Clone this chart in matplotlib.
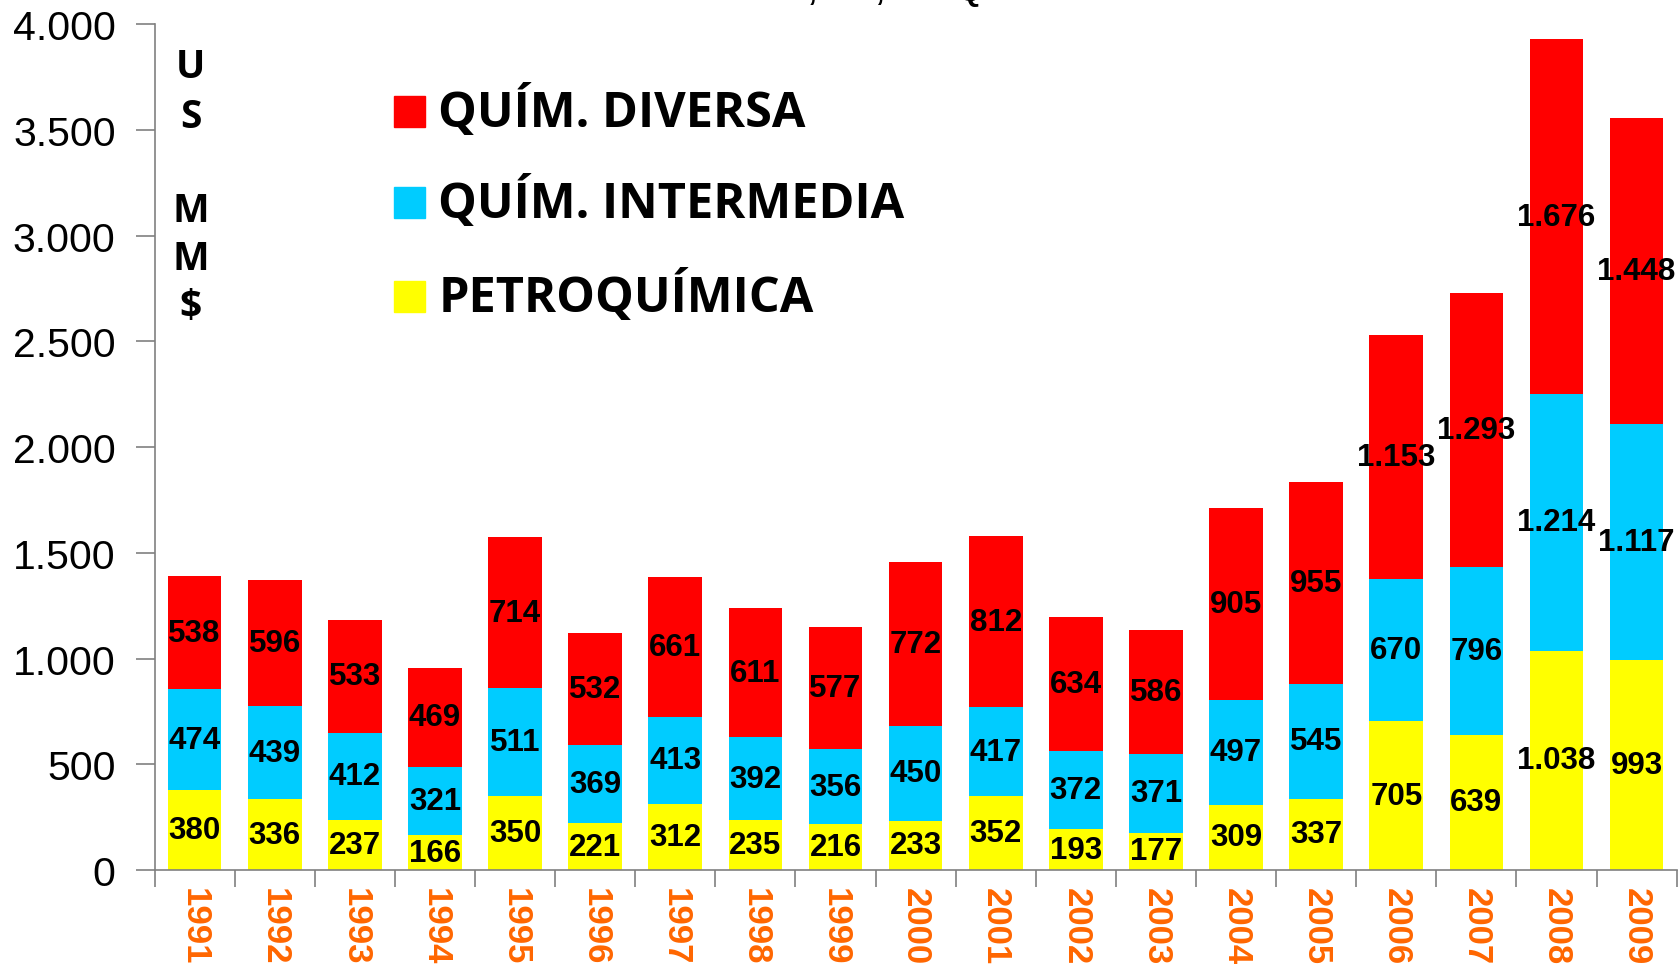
import numpy as np
import matplotlib.pyplot as plt
from matplotlib.patches import Rectangle

years = ['1991', '1992', '1993', '1994', '1995', '1996', '1997', '1998', '1999', '2000',
         '2001', '2002', '2003', '2004', '2005', '2006', '2007', '2008', '2009']
petroquimica = [380, 336, 237, 166, 350, 221, 312, 235, 216, 233, 352, 193, 177, 309, 337, 705, 639, 1038, 993]
intermedia = [474, 439, 412, 321, 511, 369, 413, 392, 356, 450, 417, 372, 371, 497, 545, 670, 796, 1214, 1117]
diversa = [538, 596, 533, 469, 714, 532, 661, 611, 577, 772, 812, 634, 586, 905, 955, 1153, 1293, 1676, 1448]

series = [('PETROQUÍMICA', petroquimica, '#FFFF00'),
          ('QUÍM. INTERMEDIA', intermedia, '#00CCFF'),
          ('QUÍM. DIVERSA', diversa, '#FF0000')]


def fmt(v):
    # miles con punto
    return '{:,}'.format(int(v)).replace(',', '.')


fig = plt.figure(figsize=(16.8, 9.7), dpi=100)
ax = fig.add_axes([0.092, 0.102, 0.906, 0.872])

x = np.arange(len(years))
bottom = np.zeros(len(years))
for name, vals, col in series:
    vals = np.array(vals, dtype=float)
    ax.bar(x, vals, 0.67, bottom=bottom, color=col, label=name, zorder=2)
    for xi, b, v in zip(x, bottom, vals):
        ax.text(xi, b + v / 2, fmt(v), ha='center', va='center', fontsize=22.5,
                fontweight='bold', family='Liberation Sans', color='black', zorder=3)
    bottom += vals

ax.set_xlim(-0.5, len(years) - 0.5)
ax.set_ylim(0, 4000)
ax.set_yticks(np.arange(0, 4001, 500))
ax.set_yticklabels([fmt(v) for v in np.arange(0, 4001, 500)], fontsize=29.5,
                   family='Liberation Sans')

# ticks del eje x entre categorias
ax.set_xticks(np.arange(-0.5, len(years), 1.0))
ax.set_xticklabels([])
ax.tick_params(axis='x', length=12, width=1.2, color='#808080')
ax.tick_params(axis='y', length=14, width=1.2, color='#808080', pad=14)
for i, y in enumerate(years):
    ax.text(i, -78, y, rotation=270, ha='center', va='top', fontsize=25,
            fontweight='bold', color='#FF6600', family='Liberation Sans')

for s in ['top', 'right']:
    ax.spines[s].set_visible(False)
ax.spines['left'].set_color('#808080')
ax.spines['bottom'].set_color('#808080')
ax.spines['left'].set_linewidth(1.2)
ax.spines['bottom'].set_linewidth(1.2)

# leyenda manual
leg_y = [0.884, 0.79, 0.693]
for (name, vals, col), ly in zip(series[::-1], leg_y):
    fig.patches.append(Rectangle((0.2345, ly - 0.016), 0.0185, 0.032, color=col,
                                 transform=fig.transFigure, figure=fig))
    fig.text(0.261, ly, name, fontsize=35, fontweight='bold', family='Open Sans',
             va='center', ha='left')

# unidad vertical
for ch, yy in zip(['U', 'S', 'M', 'M', '$'], [68, 117, 212, 260, 308]):
    fig.text(0.1135, 1 - yy / 970, ch, fontsize=28, fontweight='bold',
             family='Open Sans', ha='center', va='center')

fig.text(0.499, 1.0, 'Fuente: CEI, INE, ASOQUIM', fontsize=22, fontweight='bold',
         family='Liberation Sans', ha='center', va='baseline')

fig.savefig('out.png', dpi=100)
